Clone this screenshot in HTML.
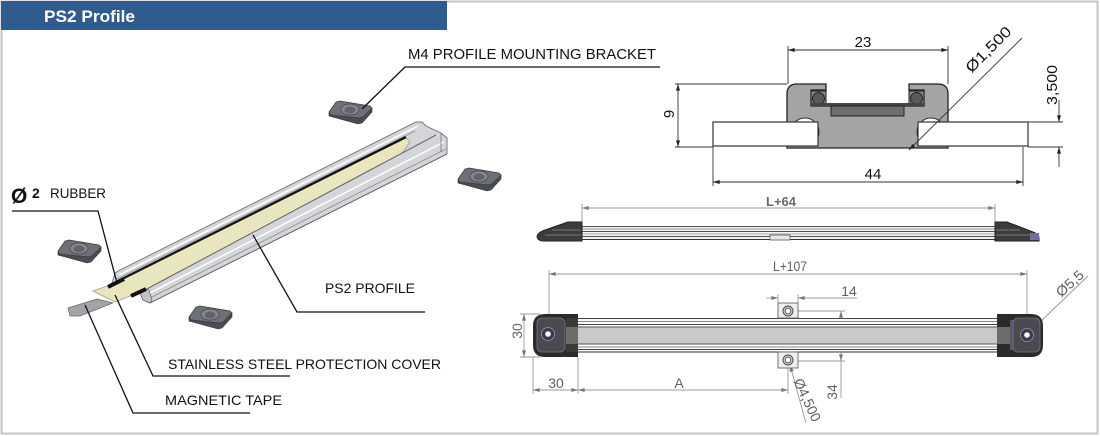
<!DOCTYPE html>
<html><head><meta charset="utf-8"><style>
html,body{margin:0;padding:0;background:#fff;}
svg{display:block;}
text{font-family:"Liberation Sans",sans-serif;}
</style></head><body>
<svg width="1100" height="436" viewBox="0 0 1100 436" xmlns="http://www.w3.org/2000/svg">
<defs>
<marker id="ab" viewBox="0 0 10 6" refX="10" refY="3" markerWidth="7" markerHeight="4" markerUnits="userSpaceOnUse" orient="auto-start-reverse"><path d="M0,0 L10,3 L0,6 z" fill="#222"/></marker>
<marker id="ag" viewBox="0 0 10 6" refX="10" refY="3" markerWidth="7" markerHeight="4" markerUnits="userSpaceOnUse" orient="auto-start-reverse"><path d="M0,0 L10,3 L0,6 z" fill="#777"/></marker>
<g id="nut">
<polygon points="1,13 1,16 30,24 34,23 44,12 44,8 34,18 3,15" fill="#4b4d54" stroke="#333" stroke-width="0.6"/>
<polygon points="1,12 8,2 12,1 42,6 44,8 35,17 31,18 3,15" fill="#6e7077" stroke="#3a3b40" stroke-width="0.7"/>
<ellipse cx="22" cy="9.5" rx="9" ry="5.5" fill="#85878d" stroke="#44464c" stroke-width="0.7"/>
<ellipse cx="22" cy="10" rx="5.5" ry="3.5" fill="#62646b"/>
</g>
</defs>

<!-- frame -->
<rect x="1.5" y="1.5" width="1096" height="432" fill="#fff" stroke="#c4c4c4" stroke-width="2"/>
<rect x="1" y="1" width="446" height="29" fill="#2f5b8f"/>
<text x="44" y="22" font-size="17" font-weight="bold" fill="#fff" textLength="91" lengthAdjust="spacingAndGlyphs">PS2 Profile</text>

<!-- ===== LEFT 3D VIEW ===== -->
<use href="#nut" x="328" y="100"/>
<use href="#nut" x="457" y="167"/>
<use href="#nut" x="57" y="239"/>
<use href="#nut" x="188" y="305"/>

<!-- magnetic tape -->
<polygon points="68,308 97,299 113,303 80,316 70,316" fill="#a3a4a8" stroke="#666" stroke-width="0.7"/>
<!-- profile body -->
<polygon points="112,283 115,273 120,270 416,122 422,122 426,126 441,133 447,138 447,154 150,303 143,300 140,293" fill="#d3d5d8" stroke="#6f7175" stroke-width="0.9"/>
<line x1="119" y1="275" x2="418" y2="126" stroke="#fff" stroke-width="1.5"/>
<line x1="117" y1="279" x2="415" y2="131" stroke="#8a8a8a" stroke-width="0.8"/>
<!-- cover -->
<polygon points="93,291 110,285 406,138 410,142 402,153 143,291 115,302" fill="#e9e6bf" stroke="#9a9880" stroke-width="0.7"/>
<!-- rubber -->
<line x1="110" y1="285" x2="406" y2="137" stroke="#111" stroke-width="2.2"/>
<line x1="108" y1="287" x2="124" y2="279" stroke="#111" stroke-width="4"/>
<!-- front rail lines -->
<line x1="143" y1="291" x2="436" y2="135" stroke="#666" stroke-width="1"/>
<line x1="146" y1="295" x2="444" y2="142" stroke="#fff" stroke-width="1.5"/>
<line x1="148" y1="299" x2="446" y2="149" stroke="#8a8a8a" stroke-width="0.8"/>
<line x1="150" y1="303" x2="447" y2="154" stroke="#666" stroke-width="0.9"/>
<polygon points="140,293 143,289 149,290 152,300 150,303 143,300" fill="#c0c2c5" stroke="#555" stroke-width="0.6"/>
<line x1="131" y1="296" x2="146" y2="289" stroke="#111" stroke-width="4"/>
<line x1="441" y1="133" x2="441" y2="152" stroke="#777" stroke-width="0.8"/>

<!-- leaders -->
<g fill="none" stroke="#111" stroke-width="1.3">
<polyline points="660,67 405,67 362,109"/>
<polyline points="12,211 98,211 117,283"/>
<polyline points="425,312 297,312 253,235"/>
<polyline points="290,376 153,376 115,295"/>
<polyline points="250,413 133,413 85,305"/>
</g>
<g fill="#111">
<text x="408" y="59" font-size="15" textLength="248" lengthAdjust="spacingAndGlyphs">M4 PROFILE MOUNTING BRACKET</text>
<text x="11" y="203" font-size="21" font-weight="bold">Ø</text>
<text x="32" y="198" font-size="14" font-weight="bold">2</text>
<text x="50" y="198" font-size="14" textLength="56" lengthAdjust="spacingAndGlyphs">RUBBER</text>
<text x="325" y="293" font-size="14" textLength="90" lengthAdjust="spacingAndGlyphs">PS2 PROFILE</text>
<text x="168" y="369" font-size="14" textLength="273" lengthAdjust="spacingAndGlyphs">STAINLESS STEEL PROTECTION COVER</text>
<text x="165" y="405" font-size="14" textLength="117" lengthAdjust="spacingAndGlyphs">MAGNETIC TAPE</text>
</g>

<!-- ===== CROSS SECTION ===== -->
<path d="M787,94 Q787,84 797,84 L826,84 L826,90 L811,90 L811,106 L924,106 L924,90 L909,90 L909,84 L938,84 Q948,84 948,94 L948,148 L787,148 Z" fill="#a4a4a4" stroke="#222" stroke-width="1.3"/>
<rect x="811" y="91" width="15" height="15" fill="#8a8a8a" stroke="#222"/>
<circle cx="818.5" cy="98.5" r="6" fill="#5a5a5a" stroke="#222"/>
<rect x="909" y="91" width="15" height="15" fill="#8a8a8a" stroke="#222"/>
<circle cx="916.5" cy="98.5" r="6" fill="#5a5a5a" stroke="#222"/>
<rect x="811" y="103" width="113" height="3" fill="#444"/>
<rect x="831" y="106" width="73" height="10" fill="#6d6d6d" stroke="#222"/>
<circle cx="805" cy="132" r="14" fill="#fff" stroke="#333" stroke-width="1"/>
<rect x="713" y="122" width="105" height="24" fill="#fff" stroke="#333" stroke-width="1.2"/>
<circle cx="931" cy="132" r="14" fill="#fff" stroke="#333" stroke-width="1"/>
<rect x="918" y="122" width="110" height="24" fill="#fff" stroke="#333" stroke-width="1.2"/>

<g stroke="#333" stroke-width="0.9" fill="none">
<line x1="788" y1="46" x2="788" y2="84"/>
<line x1="948" y1="46" x2="948" y2="84"/>
<line x1="788" y1="50" x2="948" y2="50" marker-start="url(#ab)" marker-end="url(#ab)"/>
<line x1="675" y1="84" x2="787" y2="84"/>
<line x1="675" y1="147" x2="713" y2="147"/>
<line x1="678" y1="84" x2="678" y2="147" marker-start="url(#ab)" marker-end="url(#ab)"/>
<line x1="713" y1="147" x2="713" y2="186"/>
<line x1="1023" y1="147" x2="1023" y2="186"/>
<line x1="713" y1="182" x2="1023" y2="182" marker-start="url(#ab)" marker-end="url(#ab)"/>
<line x1="1028" y1="122" x2="1063" y2="122"/>
<line x1="1028" y1="147" x2="1063" y2="147"/>
<line x1="1059" y1="100" x2="1059" y2="122" marker-end="url(#ab)"/>
<line x1="1059" y1="167" x2="1059" y2="147" marker-end="url(#ab)"/>
<line x1="909" y1="150" x2="1022" y2="38" marker-start="url(#ab)"/>
</g>
<g fill="#111" font-size="15">
<text x="863" y="47" text-anchor="middle">23</text>
<text x="873" y="179" text-anchor="middle">44</text>
<text transform="translate(674,114) rotate(-90)" text-anchor="middle">9</text>
<text transform="translate(1057,85) rotate(-90)" text-anchor="middle" textLength="40" lengthAdjust="spacingAndGlyphs">3,500</text>
<text transform="translate(992,53) rotate(-45)" text-anchor="middle" textLength="58" lengthAdjust="spacingAndGlyphs">Ø1,500</text>
</g>

<!-- ===== SIDE VIEW L+64 ===== -->
<g stroke="#999" stroke-width="0.9" fill="none">
<line x1="582" y1="204" x2="582" y2="222"/>
<line x1="995" y1="204" x2="995" y2="222"/>
<line x1="582" y1="208" x2="995" y2="208" marker-start="url(#ag)" marker-end="url(#ag)"/>
</g>
<text x="781" y="206" font-size="13" font-weight="bold" fill="#6a6a6a" text-anchor="middle" textLength="30" lengthAdjust="spacingAndGlyphs">L+64</text>
<rect x="582" y="226" width="413" height="14" fill="#f2f2f2"/>
<g stroke-width="1">
<line x1="582" y1="226.5" x2="995" y2="226.5" stroke="#555"/>
<line x1="582" y1="229" x2="995" y2="229" stroke="#999"/>
<line x1="582" y1="231.5" x2="995" y2="231.5" stroke="#555"/>
<line x1="582" y1="234" x2="995" y2="234" stroke="#aaa"/>
<line x1="582" y1="236.5" x2="995" y2="236.5" stroke="#555"/>
<line x1="582" y1="239.5" x2="995" y2="239.5" stroke="#333"/>
</g>
<rect x="770" y="235" width="20" height="5" fill="#e8e8e8" stroke="#555" stroke-width="0.8"/>
<path d="M582,222 L568,222 L545,230 Q537,233 537,237 L538,239 Q540,241 544,241 L582,241 Z" fill="#3c3c3c" stroke="#222"/>
<line x1="552" y1="230" x2="581" y2="230" stroke="#777"/>
<line x1="545" y1="235" x2="581" y2="235" stroke="#777"/>
<path d="M995,222 L1007,222 L1033,232 Q1039,234 1039,238 L1039,241 L995,241 Z" fill="#3c3c3c" stroke="#222"/>
<line x1="996" y1="230" x2="1020" y2="230" stroke="#777"/>
<line x1="996" y1="235" x2="1030" y2="235" stroke="#777"/>
<rect x="1030" y="233" width="9" height="7" fill="#7070a0"/>

<!-- ===== TOP VIEW L+107 ===== -->
<g stroke="#999" stroke-width="0.9" fill="none">
<line x1="549" y1="270" x2="549" y2="334"/>
<line x1="1027" y1="270" x2="1027" y2="335"/>
<line x1="549" y1="274" x2="1027" y2="274" marker-start="url(#ag)" marker-end="url(#ag)"/>
<line x1="778" y1="294" x2="778" y2="303"/>
<line x1="798" y1="294" x2="798" y2="303"/>
<line x1="766" y1="298" x2="778" y2="298" marker-end="url(#ag)"/>
<line x1="798" y1="298" x2="857" y2="298" marker-start="url(#ag)"/>
<line x1="798" y1="311" x2="845" y2="311"/>
<line x1="798" y1="361" x2="845" y2="361"/>
<line x1="841" y1="311" x2="841" y2="361" marker-start="url(#ag)" marker-end="url(#ag)"/>
<line x1="841" y1="361" x2="841" y2="398"/>
<line x1="520" y1="314" x2="540" y2="314"/>
<line x1="520" y1="357" x2="540" y2="357"/>
<line x1="524" y1="314" x2="524" y2="357" marker-start="url(#ag)" marker-end="url(#ag)"/>
<line x1="533" y1="357" x2="533" y2="394"/>
<line x1="578" y1="357" x2="578" y2="394"/>
<line x1="788" y1="368" x2="788" y2="394"/>
<line x1="533" y1="390" x2="578" y2="390" marker-start="url(#ag)" marker-end="url(#ag)"/>
<line x1="578" y1="390" x2="788" y2="390" marker-start="url(#ag)" marker-end="url(#ag)"/>
<line x1="790" y1="365" x2="806" y2="423" marker-start="url(#ag)"/>
<line x1="1040" y1="322" x2="1088" y2="276"/>
</g>
<!-- bar -->
<rect x="578" y="318" width="419" height="34" fill="#fafafa"/>
<rect x="578" y="327" width="419" height="17" fill="#c9c9cd"/>
<g stroke-width="1">
<line x1="578" y1="318.5" x2="997" y2="318.5" stroke="#444"/>
<line x1="578" y1="321.5" x2="997" y2="321.5" stroke="#888"/>
<line x1="578" y1="324.5" x2="997" y2="324.5" stroke="#444"/>
<line x1="578" y1="327" x2="997" y2="327" stroke="#555"/>
<line x1="578" y1="344" x2="997" y2="344" stroke="#555"/>
<line x1="578" y1="347" x2="997" y2="347" stroke="#888"/>
<line x1="578" y1="349.5" x2="997" y2="349.5" stroke="#444"/>
<line x1="578" y1="352" x2="997" y2="352" stroke="#333"/>
</g>
<!-- brackets -->
<rect x="778" y="303" width="20" height="15" fill="#eee" stroke="#666" stroke-width="0.9"/>
<circle cx="788" cy="311" r="5" fill="#ccc" stroke="#444" stroke-width="0.9"/>
<circle cx="788" cy="311" r="2.8" fill="#fff" stroke="#444" stroke-width="0.8"/>
<rect x="778" y="352" width="20" height="16" fill="#eee" stroke="#666" stroke-width="0.9"/>
<circle cx="788" cy="360" r="5" fill="#ccc" stroke="#444" stroke-width="0.9"/>
<circle cx="788" cy="360" r="2.8" fill="#fff" stroke="#444" stroke-width="0.8"/>
<!-- caps -->
<path d="M578,314 L545,314 Q533,314 533,326 L533,345 Q533,357 545,357 L578,357 Z" fill="#2b2b2b"/>
<rect x="566" y="318" width="12" height="34" fill="#3a3a3a"/>
<rect x="566" y="327" width="12" height="17" fill="#6c6c6c"/>
<rect x="537" y="318" width="28" height="34" rx="5" fill="#4a4a50" stroke="#777" stroke-width="0.8"/>
<circle cx="548" cy="334" r="6.5" fill="#3a3a55" stroke="#999" stroke-width="0.8"/>
<circle cx="548" cy="334" r="2.8" fill="#fff"/>
<path d="M997,314 L1031,314 Q1043,314 1043,326 L1043,345 Q1043,357 1031,357 L997,357 Z" fill="#2b2b2b"/>
<rect x="997" y="327" width="13" height="17" fill="#6c6c6c"/>
<rect x="1010" y="320" width="4" height="30" fill="#55557a"/>
<rect x="1013" y="318" width="27" height="34" rx="5" fill="#4a4a50" stroke="#777" stroke-width="0.8"/>
<circle cx="1027" cy="335" r="6.5" fill="#3a3a55" stroke="#999" stroke-width="0.8"/>
<circle cx="1027" cy="335" r="2.8" fill="#fff"/>

<g fill="#606060" font-size="14">
<text x="790" y="271" text-anchor="middle" textLength="34" lengthAdjust="spacingAndGlyphs">L+107</text>
<text x="849" y="296" text-anchor="middle">14</text>
<text transform="translate(522,331) rotate(-90)" text-anchor="middle">30</text>
<text x="556" y="388" text-anchor="middle">30</text>
<text x="679" y="388" text-anchor="middle">A</text>
<text transform="translate(837,392) rotate(-90)" text-anchor="middle">34</text>
<text transform="translate(803,402) rotate(65)" text-anchor="middle" textLength="46" lengthAdjust="spacingAndGlyphs">Ø4,500</text>
<text transform="translate(1073,287) rotate(-42)" text-anchor="middle" textLength="32" lengthAdjust="spacingAndGlyphs">Ø5,5</text>
</g>
</svg>
</body></html>
